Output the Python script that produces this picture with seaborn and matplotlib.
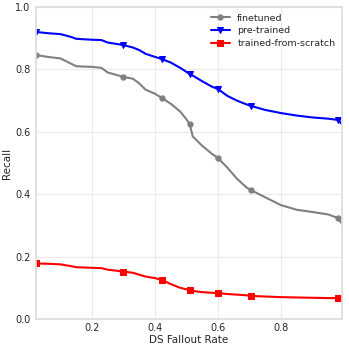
import matplotlib
matplotlib.use("Agg")
import matplotlib.pyplot as plt
import pandas as pd
import seaborn as sns

# Fallout rate grid shared by all three curves
fallout = [0.022, 0.06, 0.10, 0.13, 0.15, 0.20, 0.23, 0.25, 0.30, 0.33, 0.35, 0.37,
           0.40, 0.422, 0.45, 0.48, 0.50, 0.51, 0.52, 0.55, 0.58, 0.60, 0.63, 0.66,
           0.69, 0.705, 0.75, 0.80, 0.85, 0.90, 0.95, 0.98, 0.994]

finetuned = [0.846, 0.840, 0.835, 0.820, 0.810, 0.808, 0.805, 0.790, 0.776, 0.770, 0.755, 0.735,
             0.722, 0.708, 0.690, 0.665, 0.640, 0.625, 0.585, 0.555, 0.530, 0.516, 0.485, 0.450,
             0.422, 0.413, 0.390, 0.365, 0.350, 0.343, 0.335, 0.324, 0.305]

pretrained = [0.920, 0.916, 0.913, 0.905, 0.898, 0.895, 0.894, 0.886, 0.878, 0.870, 0.862, 0.850,
              0.840, 0.833, 0.822, 0.805, 0.792, 0.785, 0.780, 0.762, 0.745, 0.737, 0.715, 0.700,
              0.688, 0.683, 0.670, 0.660, 0.652, 0.646, 0.642, 0.638, 0.625]

scratch = [0.178, 0.177, 0.175, 0.170, 0.166, 0.164, 0.163, 0.158, 0.152, 0.148, 0.142, 0.136,
           0.131, 0.125, 0.112, 0.100, 0.095, 0.093, 0.090, 0.086, 0.084, 0.083, 0.080, 0.078,
           0.076, 0.074, 0.072, 0.070, 0.069, 0.068, 0.067, 0.067, 0.066]

marker_idx = [0, 8, 13, 17, 21, 25, 31]

series = [
    ("finetuned", finetuned, "gray", "o"),
    ("pre-trained", pretrained, "blue", "v"),
    ("trained-from-scratch", scratch, "red", "s"),
]

sns.set_theme(style="whitegrid")
plt.rcParams["font.family"] = ["DejaVu Sans"]

fig = plt.figure(figsize=(3.49, 3.49), dpi=100)
ax = fig.add_axes([0.103, 0.086, 0.877, 0.894])

for name, vals, color, mk in series:
    df = pd.DataFrame({"x": fallout, "y": vals})
    sns.lineplot(data=df, x="x", y="y", ax=ax, color=color, marker=mk, markersize=3.8,
                 markeredgecolor=color, linewidth=1.5, markevery=marker_idx,
                 sort=False, label=name)

ax.set_xlim(0.022, 0.994)
ax.set_ylim(0.0, 1.0)
ax.set_xticks([0.2, 0.4, 0.6, 0.8])
ax.set_yticks([0.0, 0.2, 0.4, 0.6, 0.8, 1.0])
ax.tick_params(axis="x", labelsize=7, length=0, pad=3)
ax.tick_params(axis="y", labelsize=7, length=0, pad=4)
ax.set_xlabel("DS Fallout Rate", fontsize=7.5)
ax.set_ylabel("Recall", fontsize=7.5)
ax.xaxis.set_label_coords(0.5, -0.052)
ax.yaxis.set_label_coords(-0.078, 0.5)
for s in ax.spines.values():
    s.set_color("#dddddd")
ax.grid(color="#ebebeb", linewidth=0.8)
ax.legend(loc="upper right", fontsize=6.8, frameon=False, handlelength=2,
          borderaxespad=0.3, labelspacing=0.4)

fig.savefig("out.png", dpi=100)
